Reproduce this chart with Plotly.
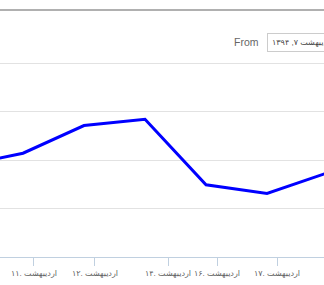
import plotly.graph_objects as go

# data: point index along an ordinal axis, and series values
x_index = [-1, 0, 1, 2, 3, 4, 5]
values = [1.88, 2.14, 2.71, 2.84, 1.49, 1.31, 1.74]

# tick positions (in point-index units) and labels
tick_pos = [0.18, 1.18, 2.377, 3.18, 4.164, 5.2]
tick_text = ["۱۱. اردیبهشت", "۱۲. اردیبهشت", "۱۴. اردیبهشت",
             "۱۶. اردیبهشت", "۱۷. اردیبهشت", "۱۸. اردیبهشت"]
y_ticks = [0, 1, 2, 3, 4]

from_label = "From"
from_value = "اردیبهشت ۷, ۱۳۹۴"

W, H = 324, 285
TOP, BOTTOM = 8, 28
PLOT_H = H - TOP - BOTTOM
UNIT_PX = 48.5
x_range = [-0.377, 4.934]
y_range = [0, PLOT_H / UNIT_PX]

fig = go.Figure()
fig.add_trace(go.Scatter(
    x=x_index, y=values, mode="lines",
    line=dict(color="#0000ff", width=3),
    hoverinfo="skip", showlegend=False,
))

vis_pos = [p for p in tick_pos if x_range[0] <= p <= x_range[1]]
vis_txt = [t for p, t in zip(tick_pos, tick_text) if x_range[0] <= p <= x_range[1]]
off_pos = [p for p in tick_pos if p > x_range[1]]
off_txt = [t for p, t in zip(tick_pos, tick_text) if p > x_range[1]]

# tick labels that fall past the right edge (partly visible, clipped by the page)
fig.add_trace(go.Scatter(
    x=off_pos, y=[y_range[0] - 14.5 / UNIT_PX] * len(off_pos), mode="text",
    text=off_txt, textposition="middle center", cliponaxis=False,
    textfont=dict(size=8, color="#606060", family="Liberation Sans, DejaVu Sans, sans-serif"),
    hoverinfo="skip", showlegend=False,
))

fig.update_layout(
    width=W, height=H,
    margin=dict(l=0, r=0, t=TOP, b=BOTTOM, autoexpand=False),
    paper_bgcolor="white", plot_bgcolor="white",
    font=dict(family="Liberation Sans, DejaVu Sans, sans-serif", size=8, color="#606060"),
    xaxis=dict(
        range=x_range, tickmode="array", tickvals=vis_pos, ticktext=vis_txt,
        tickangle=0, automargin=False,
        showgrid=False, zeroline=False, showline=True, linecolor="#c0d0e0", linewidth=1,
        ticks="outside", ticklen=8, tickcolor="#c0d0e0", tickwidth=1,
        tickfont=dict(size=8, color="#606060"),
    ),
    yaxis=dict(
        range=y_range, tickvals=y_ticks, showticklabels=False, automargin=False,
        showgrid=True, gridcolor="#e2e2e2", gridwidth=1, zeroline=False,
    ),
)

# top border rule of the chart panel
fig.add_shape(type="rect", xref="paper", yref="paper", x0=-0.01, x1=1.01,
              y0=(H - BOTTOM - 11) / PLOT_H, y1=(H - BOTTOM - 9) / PLOT_H,
              fillcolor="#b0b0b0", line=dict(width=0), layer="above")

# range selector input
ypos = (H - BOTTOM - 42.5) / PLOT_H
fig.add_annotation(x=261 / W, y=ypos, xref="paper", yref="paper",
                   xanchor="right", yanchor="middle", text=from_label, showarrow=False,
                   font=dict(size=10.5, color="#666666"))
fig.add_annotation(x=267 / W, y=ypos, xref="paper", yref="paper",
                   xanchor="left", yanchor="middle", text=from_value, showarrow=False,
                   font=dict(size=8, color="#444444"), bordercolor="#cccccc",
                   borderwidth=1, borderpad=4, bgcolor="white")

fig.write_html("out.html", config={"displayModeBar": False})
